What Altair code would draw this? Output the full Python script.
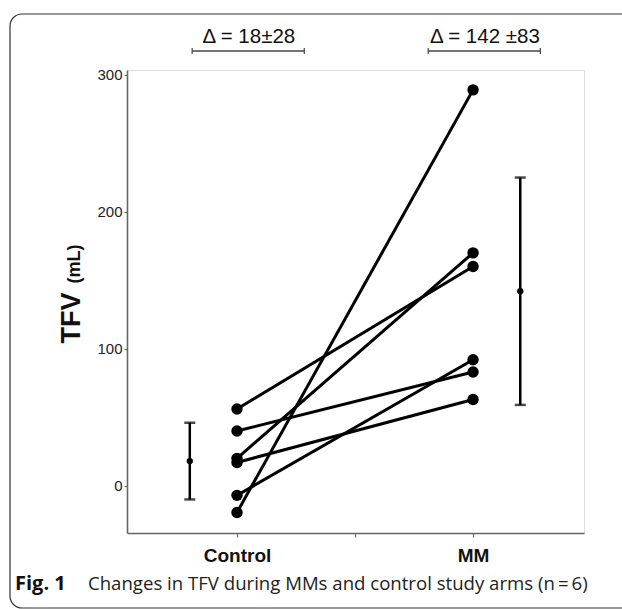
import altair as alt
import pandas as pd

# ---- data ----
arms = ["Control", "MM"]
control_tfv = [56, 40, 20, 17, -7, -19.5]
mm_tfv = [160, 83, 170, 63, 92, 289]
group_mean = [18, 142]
group_sd = [28, 83]
delta_labels = ["Δ = 18±28", "Δ = 142 ±83"]
y_ticks = [0, 100, 200, 300]
x_ticks = [1, 1.5, 2]

# ---- tables ----
arm_pos = [1, 2]
rows = []
for i, (c, m) in enumerate(zip(control_tfv, mm_tfv)):
    rows.append({"subj": i, "pos": arm_pos[0], "arm": arms[0], "tfv": c})
    rows.append({"subj": i, "pos": arm_pos[1], "arm": arms[1], "tfv": m})
df = pd.DataFrame(rows)

err = pd.DataFrame({
    "arm": arms,
    "pos": [arm_pos[0] - 0.2, arm_pos[1] + 0.2],
    "mean": group_mean,
    "lo": [m - s for m, s in zip(group_mean, group_sd)],
    "hi": [m + s for m, s in zip(group_mean, group_sd)],
})

brk = pd.DataFrame({
    "label": delta_labels,
    "xc": [p + 0.05 for p in arm_pos],
    "x0": [p - 0.19 for p in arm_pos],
    "x1": [p + 0.285 for p in arm_pos],
})

W, H = 457, 463
xs = alt.Scale(domain=[0.534, 2.47], nice=False, zero=False)
ys = alt.Scale(domain=[-34.5, 303.5], nice=False, zero=False)
AX = "Liberation Sans"

x_enc = alt.X("pos:Q", scale=xs,
              axis=alt.Axis(values=x_ticks, title=None, grid=False,
                            labelExpr="datum.value == 1 ? 'Control' : datum.value == 2 ? 'MM' : ''",
                            labelFont=AX, labelFontWeight="bold", labelFontSize=19,
                            labelColor="#111", labelPadding=9, tickSize=4,
                            tickColor="#666", domainColor="#666", domainWidth=1.6,
                            tickWidth=1.2, labelFlush=False))
y_enc = alt.Y("tfv:Q", scale=ys,
              axis=alt.Axis(values=y_ticks, title=None, grid=False,
                            labelFont=AX, labelFontSize=15, labelColor="#222",
                            labelPadding=2, tickSize=3, tickColor="#666",
                            domainColor="#666", domainWidth=1.6, tickWidth=1.2))

base = alt.Chart(df)
lines = base.mark_line(color="black", strokeWidth=3).encode(
    x=x_enc, y=y_enc, detail="subj:N")
pts = base.mark_circle(color="black", size=130, opacity=1).encode(
    x="pos:Q", y="tfv:Q")

eb = alt.Chart(err)
eb_rule = eb.mark_rule(color="black", strokeWidth=2.5).encode(
    x="pos:Q", y="lo:Q", y2="hi:Q")
eb_lo = eb.mark_tick(color="black", orient="horizontal", size=11, thickness=2.5).encode(
    x="pos:Q", y="lo:Q")
eb_hi = eb.mark_tick(color="black", orient="horizontal", size=11, thickness=2.5).encode(
    x="pos:Q", y="hi:Q")
eb_pt = eb.mark_circle(color="black", size=40, opacity=1).encode(
    x="pos:Q", y="mean:Q")

bc = alt.Chart(brk)
b_text = bc.mark_text(font=AX, fontSize=20.5, color="#111", baseline="middle").encode(
    x="xc:Q", y=alt.value(-33), text="label:N")
b_rule = bc.mark_rule(color="#444", strokeWidth=1.5).encode(
    x="x0:Q", x2="x1:Q", y=alt.value(-19))
b_end0 = bc.mark_rule(color="#444", strokeWidth=1.2).encode(
    x="x0:Q", y=alt.value(-22), y2=alt.value(-16))
b_end1 = bc.mark_rule(color="#444", strokeWidth=1.2).encode(
    x="x1:Q", y=alt.value(-22), y2=alt.value(-16))

one = alt.Chart(alt.Data(values=[{}]))
frame = one.mark_rect(filled=False, stroke="#333", strokeWidth=1.2, cornerRadius=12).encode(
    x=alt.value(-117), x2=alt.value(520), y=alt.value(-56), y2=alt.value(538))
t_tfv = one.mark_text(text="TFV", font=AX, fontWeight="bold", fontSize=27, angle=270,
                      align="center", baseline="alphabetic", color="#111").encode(
    x=alt.value(-47), y=alt.value(248))
t_ml = one.mark_text(text="(mL)", font=AX, fontWeight="bold", fontSize=18, angle=270,
                     align="center", baseline="alphabetic", color="#111").encode(
    x=alt.value(-47), y=alt.value(194))
cap_b = one.mark_text(text="Fig. 1", font="Open Sans", fontWeight="bold", fontSize=20,
                      align="left", baseline="alphabetic", color="#111").encode(
    x=alt.value(-112), y=alt.value(520))
cap_r = one.mark_text(text="Changes in TFV during MMs and control study arms (n\u2009=\u20096)",
                      font="Open Sans", fontSize=18.6, align="left", baseline="alphabetic",
                      color="#222").encode(
    x=alt.value(-39), y=alt.value(520))

chart = alt.layer(
    frame, lines, pts, eb_rule, eb_lo, eb_hi, eb_pt,
    b_text, b_rule, b_end0, b_end1, t_tfv, t_ml, cap_b, cap_r
).properties(
    width=W, height=H,
    autosize=alt.AutoSizeParams(type="none"),
    padding={"left": 127, "top": 70, "right": 38, "bottom": 76},
).configure_view(stroke=None).configure(background="white")

chart.save("out.html", embed_options={"renderer": "svg", "actions": False})
